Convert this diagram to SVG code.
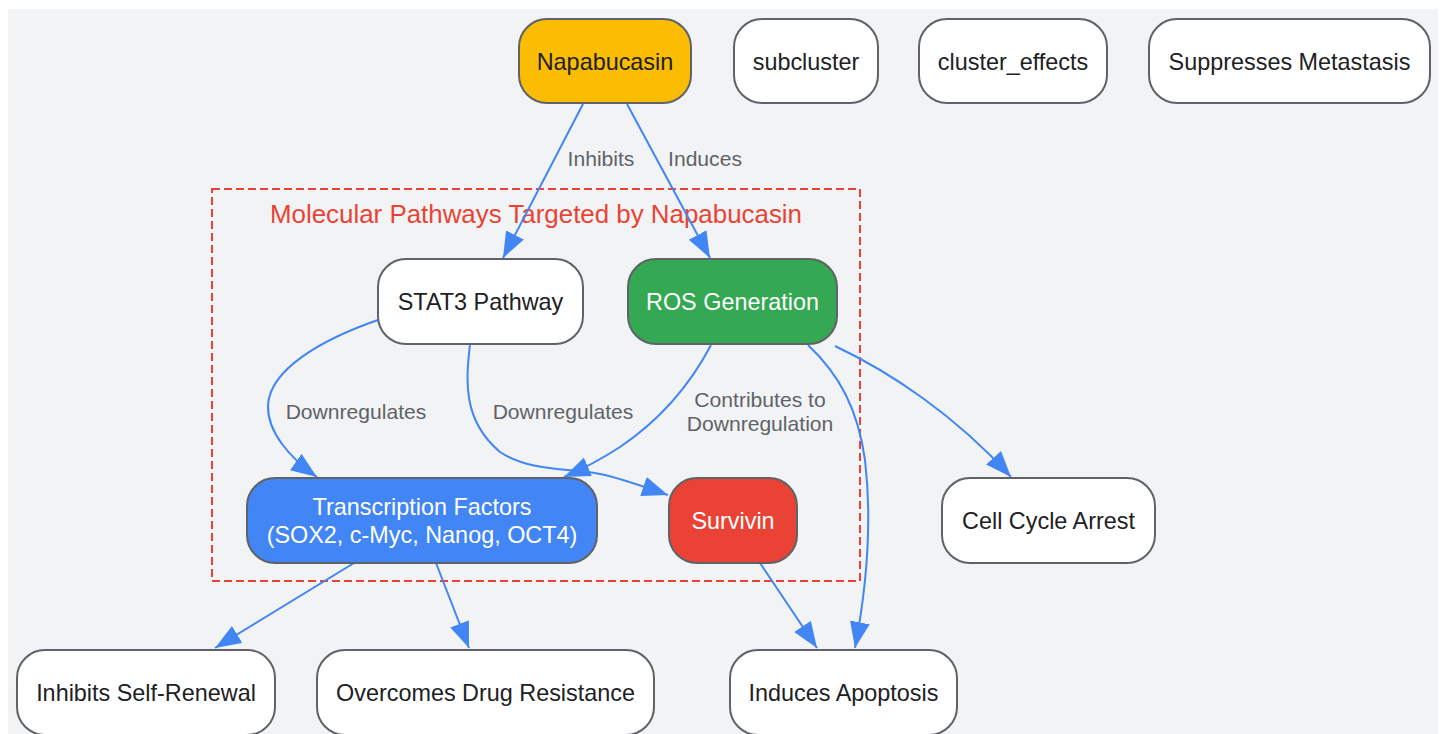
<svg xmlns="http://www.w3.org/2000/svg" width="1442" height="734" viewBox="0 0 1442 734">
<style>
.node rect{stroke:#5f6368;stroke-width:2}
.node text{font-family:"Liberation Sans",Arial,sans-serif;font-size:23.4px;text-anchor:middle;fill:#202124}
.node text.w{fill:#ffffff}
.edge{fill:none;stroke:#4285f4;stroke-width:2;marker-end:url(#arr)}
.lbl{font-family:"Liberation Sans",Arial,sans-serif;font-size:21.1px;text-anchor:middle;fill:#5f6368}
</style>
<defs>
<marker id="arr" markerUnits="userSpaceOnUse" markerWidth="28" markerHeight="22" viewBox="0 0 28 22" refX="26" refY="10" orient="auto">
<path d="M0,0 L26,10 L0,20 z" fill="#4285f4"/>
</marker>
</defs>
<rect x="8" y="9" width="1430" height="730" fill="#f1f3f4"/>
<g id="cluster">
<rect x="212" y="189" width="648" height="392" fill="none" stroke="#ea4335" stroke-width="2" stroke-dasharray="8,4"/>
<text x="536" y="223" font-family="'Liberation Sans',Arial,sans-serif" font-size="25.9" text-anchor="middle" fill="#ea4335">Molecular Pathways Targeted by Napabucasin</text>
</g>
<g id="connectors">
<path class="edge" d="M583,104 L503,258"/>
<path class="edge" d="M627,104 L710,258"/>
<path class="edge" d="M378,320 C320,340 270,370 268,405 C267,432 290,458 317,477"/>
<path class="edge" d="M470,344 C466,380 462,420 500,452 C530,472 570,468 600,474 C620,478 645,487 668,495"/>
<path class="edge" d="M711,345 C690,385 660,420 620,447 C600,460 585,468 564,477"/>
<path class="edge" d="M808,345 C840,375 858,410 865,460 C872,520 868,580 855,648"/>
<path class="edge" d="M835,346 C890,372 955,415 1011,477"/>
<path class="edge" d="M354,563 L215,648"/>
<path class="edge" d="M436,563 L469,648"/>
<path class="edge" d="M760,563 L817,648"/>
<text class="lbl" x="601" y="166">Inhibits</text>
<text class="lbl" x="705" y="166">Induces</text>
<text class="lbl" x="356" y="419">Downregulates</text>
<text class="lbl" x="563" y="419">Downregulates</text>
<text class="lbl" x="760" y="407">Contributes to</text>
<text class="lbl" x="760" y="431">Downregulation</text>
</g>
<g id="napabucasin" class="node"><rect x="519" y="19" width="172" height="84" rx="28" fill="#fbbc04"/><text x="605" y="70">Napabucasin</text></g>
<g id="subcluster" class="node"><rect x="734" y="19" width="144" height="84" rx="28" fill="#ffffff"/><text x="806" y="70">subcluster</text></g>
<g id="cluster_effects" class="node"><rect x="919" y="19" width="188" height="84" rx="28" fill="#ffffff"/><text x="1013" y="70">cluster_effects</text></g>
<g id="metastasis" class="node"><rect x="1149" y="19" width="281" height="84" rx="28" fill="#ffffff"/><text x="1289.5" y="70">Suppresses Metastasis</text></g>
<g id="stat3" class="node"><rect x="378" y="259" width="205" height="85" rx="28" fill="#ffffff"/><text x="480.5" y="310">STAT3 Pathway</text></g>
<g id="ros" class="node"><rect x="628" y="259" width="209" height="85" rx="28" fill="#34a853"/><text class="w" x="732.5" y="310">ROS Generation</text></g>
<g id="tf" class="node"><rect x="247" y="478" width="350" height="85" rx="28" fill="#4285f4"/><text class="w" x="422" y="515">Transcription Factors</text><text class="w" x="422" y="543">(SOX2, c-Myc, Nanog, OCT4)</text></g>
<g id="survivin" class="node"><rect x="669" y="478" width="128" height="85" rx="28" fill="#ea4335"/><text class="w" x="733" y="529">Survivin</text></g>
<g id="cellcycle" class="node"><rect x="942" y="478" width="213" height="85" rx="28" fill="#ffffff"/><text x="1048.5" y="529">Cell Cycle Arrest</text></g>
<g id="selfrenewal" class="node"><rect x="17" y="650" width="258" height="85" rx="28" fill="#ffffff"/><text x="146" y="701">Inhibits Self-Renewal</text></g>
<g id="drugres" class="node"><rect x="317" y="650" width="337" height="85" rx="28" fill="#ffffff"/><text x="485.5" y="701">Overcomes Drug Resistance</text></g>
<g id="apoptosis" class="node"><rect x="730" y="650" width="227" height="85" rx="28" fill="#ffffff"/><text x="843.5" y="701">Induces Apoptosis</text></g>
</svg>
